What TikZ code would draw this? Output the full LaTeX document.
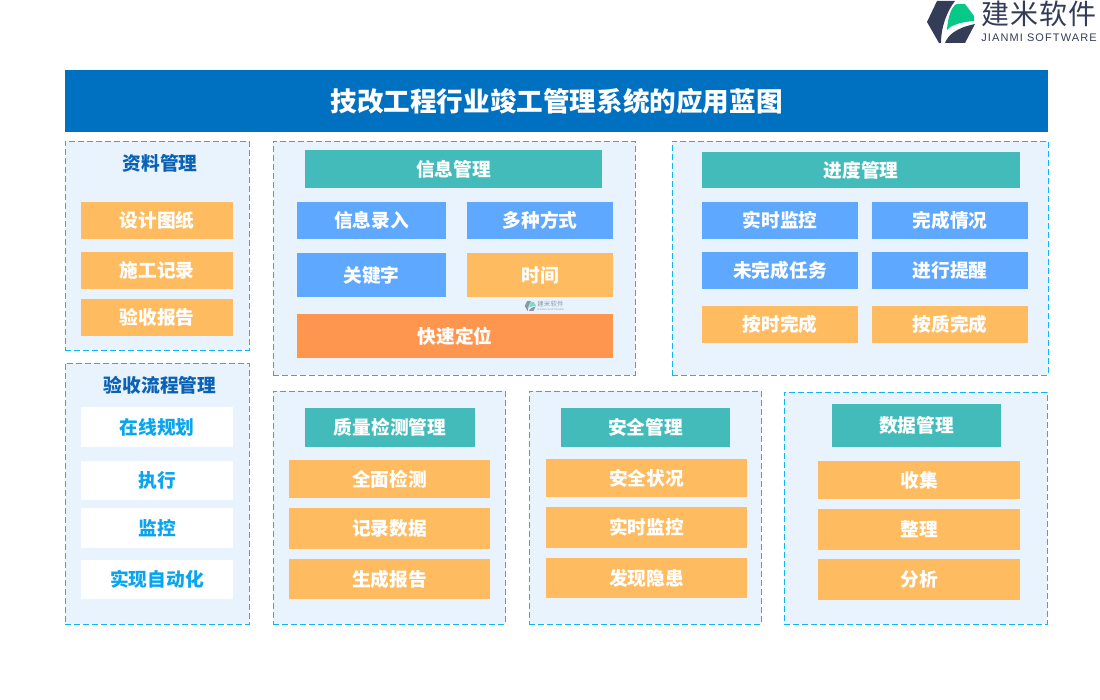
\documentclass[tikz,border=0pt]{standalone}
\usepackage{fontspec}
\setmainfont{Noto Sans CJK SC}
\newfontfamily\logolatin[LetterSpace=10]{Liberation Sans}
\newfontfamily\logocjk[LetterSpace=3]{Noto Sans CJK SC}
\definecolor{titleblue}{RGB}{0, 112, 192}
\definecolor{panelfill}{RGB}{232, 243, 254}
\definecolor{paneldash}{RGB}{18, 181, 240}
\definecolor{headblue}{RGB}{11, 98, 181}
\definecolor{itemorange}{RGB}{255, 187, 96}
\definecolor{itemblue}{RGB}{95, 168, 255}
\definecolor{itemteal}{RGB}{67, 187, 187}
\definecolor{itemdeep}{RGB}{255, 150, 80}
\definecolor{itemtext}{RGB}{10, 165, 238}
\definecolor{logodark}{RGB}{52, 60, 88}
\definecolor{logogreen}{RGB}{6, 200, 135}
\usetikzlibrary{positioning}

\begin{document}
\begin{tikzpicture}[
  x=1pt, y=-1pt,
  panel/.style={draw=paneldash, fill=panelfill, line width=0.9pt, dash pattern=on 6pt off 3pt, minimum width=#1, inner sep=0pt},
  itembox/.style={fill=#1, text=white, font=\fontsize{18.7}{18.7}\bfseries, inner sep=0pt},
  whitebox/.style={fill=white, text=itemtext, font=\fontsize{18.7}{18.7}\bfseries, inner sep=0pt, minimum width=152pt},
  headtext/.style={text=headblue, font=\fontsize{18.7}{18.7}\bfseries, inner sep=0pt},
  logomark/.pic={
    \fill[logodark] (-26,-21) -- (-8,-21) .. controls (-16,-11) and (-22,5) .. (-22,21) -- (-24,21) -- (-36,0) -- cycle;
    \fill[logodark] (-18,21) .. controls (-15,13) and (-7,6) .. (12,2) -- (2,21) -- cycle;
    \fill[logogreen] (-16,8) .. controls (-15,-8) and (-10,-17) .. (-6,-18) -- (2,-18) -- (11,-6) -- (11,-1) .. controls (-2,0) and (-12,3) .. (-16,8) -- cycle;
    \node[text=logodark, font=\logocjk\fontsize{28}{28}\selectfont, inner sep=0pt, transform shape] (#1name) at (76,-8) {建米软件};
    \node[text=logodark, font=\logolatin\fontsize{11}{11}\selectfont, inner sep=0pt, transform shape] (#1sub) at (76,16) {JIANMI SOFTWARE};
  }
]
  \useasboundingbox (0,0) rectangle (1100,700);

  % title
  \node[fill=titleblue, text=white, font=\fontsize{26.6}{26.6}\bfseries, minimum width=983pt, minimum height=62pt, inner sep=0pt] (title) at (556.5,101) {技改工程行业竣工管理系统的应用蓝图};

  % panels
  \node[panel=184pt, minimum height=209pt] (ziliao) at (157,245.5) {};
  \node[panel=184pt, minimum height=261pt] (liucheng) at (157,493.5) {};
  \node[panel=362pt, minimum height=234pt] (xinxi) at (454,258) {};
  \node[panel=376pt, minimum height=234pt] (jindu) at (860,258) {};
  \node[panel=232pt, minimum height=233pt] (zhiliang) at (389,507.5) {};
  \node[panel=232pt, minimum height=233pt] (anquan) at (645,507.5) {};
  \node[panel=263pt, minimum height=232pt] (shuju) at (915.5,508) {};

  % left column
  \node[headtext] (ziliaohead) at (160,163.5) {资料管理};
  \node[itembox=itemorange, minimum width=152pt, minimum height=37pt] (sheji) at (157,220.5) {设计图纸};
  \node[itembox=itemorange, minimum width=152pt, minimum height=37pt] (shigong) at (157,270.5) {施工记录};
  \node[itembox=itemorange, minimum width=152pt, minimum height=37pt] (yanshou) at (157,317.5) {验收报告};

  \node[headtext] (liuchenghead) at (160,385) {验收流程管理};
  \node[whitebox, minimum height=40pt] (guihua) at (157,427) {在线规划};
  \node[whitebox, minimum height=39pt] (zhixing) at (157,480.5) {执行};
  \node[whitebox, minimum height=40pt] (jiankong) at (157,528) {监控};
  \node[whitebox, minimum height=39pt] (zidong) at (157,579.5) {实现自动化};

  % info
  \node[itembox=itemteal, minimum width=297pt, minimum height=38pt] (xinxihead) at (453.5,169) {信息管理};
  \node[itembox=itemblue, minimum width=149pt, minimum height=37pt] (luru) at (371.5,220.5) {信息录入};
  \node[itembox=itemblue, minimum width=146pt, minimum height=37pt] (fangshi) at (540,220.5) {多种方式};
  \node[itembox=itemblue, minimum width=149pt, minimum height=44pt] (guanjian) at (371.5,275) {关键字};
  \node[itembox=itemorange, minimum width=146pt, minimum height=44pt] (shijian) at (540,275) {时间};
  \node[itembox=itemdeep, minimum width=316pt, minimum height=44pt] (dingwei) at (455,336) {快速定位};

  % progress
  \node[itembox=itemteal, minimum width=318pt, minimum height=36pt] (jinduhead) at (861,170) {进度管理};
  \node[itembox=itemblue, minimum width=156pt, minimum height=37pt] (shishi) at (780,220.5) {实时监控};
  \node[itembox=itemblue, minimum width=156pt, minimum height=37pt] (wancheng) at (950,220.5) {完成情况};
  \node[itembox=itemblue, minimum width=156pt, minimum height=37pt] (weiwan) at (780,270.5) {未完成任务};
  \node[itembox=itemblue, minimum width=156pt, minimum height=37pt] (tixing) at (950,270.5) {进行提醒};
  \node[itembox=itemorange, minimum width=156pt, minimum height=37pt] (anshi) at (780,324.5) {按时完成};
  \node[itembox=itemorange, minimum width=156pt, minimum height=37pt] (anzhi) at (950,324.5) {按质完成};

  % quality
  \node[itembox=itemteal, minimum width=170pt, minimum height=39pt] (zhilianghead) at (390,427.5) {质量检测管理};
  \node[itembox=itemorange, minimum width=201pt, minimum height=38pt] (quanmian) at (389.5,479) {全面检测};
  \node[itembox=itemorange, minimum width=201pt, minimum height=41pt] (jilu) at (389.5,528.5) {记录数据};
  \node[itembox=itemorange, minimum width=201pt, minimum height=40pt] (shengcheng) at (389.5,579) {生成报告};

  % safety
  \node[itembox=itemteal, minimum width=169pt, minimum height=39pt] (anquanhead) at (645.5,427.5) {安全管理};
  \node[itembox=itemorange, minimum width=201pt, minimum height=38pt] (zhuangkuang) at (646.5,478) {安全状况};
  \node[itembox=itemorange, minimum width=201pt, minimum height=41pt] (shishitwo) at (646.5,527.5) {实时监控};
  \node[itembox=itemorange, minimum width=201pt, minimum height=40pt] (yinhuan) at (646.5,578) {发现隐患};

  % data
  \node[itembox=itemteal, minimum width=169pt, minimum height=43pt] (shujuhead) at (916.5,425.5) {数据管理};
  \node[itembox=itemorange, minimum width=202pt, minimum height=38pt] (shouji) at (919,480) {收集};
  \node[itembox=itemorange, minimum width=202pt, minimum height=41pt] (zhengli) at (919,529.5) {整理};
  \node[itembox=itemorange, minimum width=202pt, minimum height=41pt] (fenxi) at (919,579.5) {分析};

  % logo
  \pic at (963,22) {logomark=main};
  \begin{scope}[opacity=0.5]
    \pic[scale=0.23, transform shape] at (533,306) {logomark=mark};
  \end{scope}
\end{tikzpicture}
\end{document}
